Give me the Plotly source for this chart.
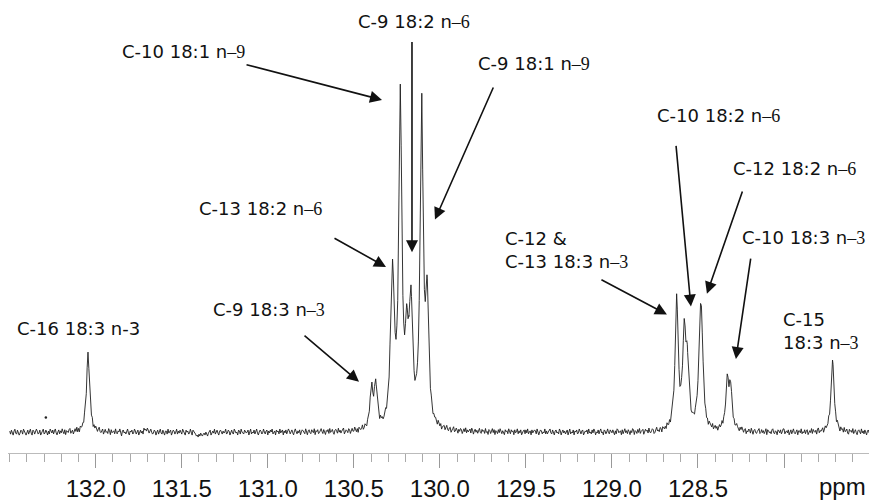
import numpy as np
import plotly.graph_objects as go

# ---- data ----
PEAK_PPM = [132.045, 130.398, 130.373, 130.280, 130.271, 130.230, 130.193, 130.180,
            130.168, 130.106, 130.080, 130.073, 128.624, 128.580, 128.562, 128.489,
            128.479, 128.330, 128.310, 127.718]
PEAK_HEIGHT = [80, 49, 54, 166, 160, 350, 130, 117, 149, 342, 147, 155, 140, 115, 89,
               119, 125, 59, 52, 73]
PEAK_HWHM = 0.0105

PPM_START = 132.50
PPM_STEP = 0.005
NOISE = [
 1,-2,2,0,-3,1,3,-1,-2,2,0,-3,-1,2,1,-2,3,0,-1,-3,1,2,-2,0,3,
 -1,-3,2,1,-2,0,3,1,-2,-1,2,-3,0,1,3,-2,-1,2,0,-3,1,-2,3,0,-1,
 2,-2,1,3,-1,-3,0,2,-2,1,-1,3,0,-2,2,-3,1,0,-1,2,3,-2,-1,1,-3,
 0,2,-1,3,-2,1,-3,2,0,-1,1,-2,3,2,-3,0,1,-1,2,-2,0,3,-3,1,-1,
 2,0,-2,1,3,-1,-2,0,2,-3,1,2,-1,0,-2,3,1,-3,2,-1,0,1,-2,3,-1,
 -2,1,0,3,-1,-4,1,2,-1,0,-2,2,3,-1,-3,1,0,2,-2,-1,3,1,-2,0,2,
 -3,0,2,-1,1,-2,4,2,3,1,4,2,-1,1,3,0,-2,-1,2,1,-3,0,2,-2,1,
 3,-1,-2,2,0,-3,1,1,-2,3,-1,0,2,-3,-1,2,1,-2,0,3,-2,1,-1,2,0,
 -2,3,1,-1,-3,2,0,1,-2,-1,3,0,-3,2,1,-1,-2,-4,-3,-5,-2,-4,-1,-3,-4,
 -2,-1,-3,0,-2,-4,-1,1,2,-3,0,1,-1,3,-2,0,2,-1,-3,1,2,0,-2,1,-1,
 0,3,-2,-1,2,1,-3,0,2,-1,-2,3,1,-1,0,-3,2,1,-2,3,0,-1,-2,2,1,
 -1,0,2,-3,1,3,-2,0,-1,2,-2,1,3,-1,-3,0,2,1,-2,-1,3,0,-2,1,2,
 -3,1,-1,2,0,3,-2,-1,1,-3,2,0,1,-2,3,-1,0,2,-3,1,-1,2,-2,0,3,
 1,-2,0,2,-1,-3,1,3,0,-2,1,-1,2,-3,0,2,1,-1,-2,3,0,-3,1,2,-1,
 -2,2,0,-1,3,-3,1,0,2,-2,-1,1,3,0,-2,2,-1,-3,1,0,2,-2,3,-1,0,
 2,-1,-3,1,2,0,-2,3,-1,1,-2,0,2,3,-3,-1,1,0,-2,2,1,-3,0,2,-1,
 -1,3,0,-2,1,-3,2,1,-1,0,3,-2,-1,2,0,-3,1,2,-2,1,-1,3,0,-2,2,
 0,-2,3,1,-1,-3,2,0,1,-2,-1,2,3,-2,0,1,-3,2,-1,0,3,-1,-2,1,0,
 3,-2,1,-1,2,0,-3,1,2,-2,0,3,-1,-2,1,2,-3,0,1,-1,2,-2,3,0,-1,
 -2,0,2,-1,3,-2,1,0,-3,2,1,-1,0,2,-2,3,-1,-3,1,0,2,-1,-2,3,1,
 -1,2,-3,0,1,2,-2,0,3,-1,-2,1,2,-3,0,1,3,-2,-1,2,0,-3,1,-1,2,
 1,-3,0,2,-1,3,-2,1,-1,0,2,-2,3,1,-3,0,2,-1,1,-2,0,3,-1,-2,2,
 0,1,-2,3,-1,0,-3,2,1,-2,0,3,-1,2,-3,1,0,-2,2,-1,3,0,-2,1,-1,
 -3,2,0,1,-2,3,-1,-2,2,0,1,-3,2,-1,0,3,-2,1,-1,2,-3,0,1,2,-2,
 2,-1,3,-2,0,1,-3,2,-1,0,2,1,-2,3,-1,-3,0,2,1,-2,0,-1,3,-2,1,
 -2,0,1,3,-1,-2,2,0,-3,1,2,-1,0,-2,3,1,-3,0,2,-1,1,-2,0,2,-3,
 1,3,-2,0,-1,2,-3,1,0,2,-2,-1,3,0,-2,1,2,-3,-1,1,0,2,-2,3,-1,
 0,-2,2,-1,3,1,-3,0,-1,2,-2,1,3,-1,0,-3,2,1,-2,0,3,-1,-2,2,0,
 -1,2,0,-3,1,-2,3,2,-1,0,1,-3,2,-2,0,3,-1,1,-2,2,0,-3,1,-1,3,
 2,-3,1,0,-2,2,-1,3,-2,0,1,2,-3,-1,2,0,1,-2,3,-1,-2,0,2,1,-3,
 -2,1,3,-1,0,-2,2,1,-3,2,0,-1,1,-2,3,0,-1,2,-3,1,0,2,-2,-1,3,
 1,0,-2,2,-3,1,3,-1,-2,0,2,-1,1,-3,2,0,3,-2,-1,1,0,-2,2,3,-1,
 -3,2,-1,1,0,-2,3,0,-1,2,-2,1,-3,2,1,0,-1,3,-2,0,2,-1,1,-3,0,
 2,-1,0,3,-2,1,-1,-3,2,0,1,-2,3,-1,0,2,-3,1,-2,0,3,1,-1,-2,2,
 0,3,-1,-2,1,2,-3,0,-1,2,1,-2,3,0,-3,1,2,-1,-2,0,1,3,-2,-1,2,
 -1,1,-2,0,3,-3,2,1,-1,0,-2,2,3,-1,-2,1,0,-3,2,1,-1,2,-2,0,3,
 3,-2,0,1,-1,2,-3,0,2,-2,1,3,-1,-2,0,2,-3,1,1,-1,3,-2,0,-1,2,
 -2,1,2,-3,0,1,-1,3,-2,2,0,-1,1,-3,2,3,-2,0,-1,1,2,-3,0,2,-1,
 1,-1,3,-2,0,2,-3,1,-1,0,2,-2,3,1,-1,-3,2,0,1,-2,3,-1,0,2,-2,
 -3,2,0,1,-1,3,-2,0,2,-1,-3,1,2,0,-2,3,-1,1,-2,2,0,-3,1,2,-1,
]

ARTIFACT_PPM = [132.29]
ARTIFACT_INT = [15]

TICK_PPM = [132.0, 131.5, 131.0, 130.5, 130.0, 129.5, 129.0, 128.5, 128.0]
TICK_TEXT = ["132.0", "131.5", "131.0", "130.5", "130.0", "129.5", "129.0", "128.5", ""]

# ---- spectrum from the peak list + baseline noise ----
peaks = np.array(PEAK_PPM)
obs = np.array(PEAK_HEIGHT, dtype=float)


def lor(d):
    return 1.0 / (1.0 + (d / PEAK_HWHM) ** 2)


A = lor(peaks[:, None] - peaks[None, :])
amp = np.clip(np.linalg.solve(A, obs), 0, None)

noise = np.array(NOISE, dtype=float)
grid = PPM_START - PPM_STEP * np.arange(len(noise))
xs = np.concatenate([grid, peaks])
ns = np.concatenate([noise, np.zeros(len(peaks))])
order = np.argsort(-xs)
xs = xs[order]
ns = ns[order]
ys = (amp[None, :] * lor(xs[:, None] - peaks[None, :])).sum(axis=1) + ns


# helpers converting picture pixels to axis coordinates for annotation placement
def X(px):
    return 132.0 - (px - 95.7) / 172.1


def Y(py):
    return 437 - py


fig = go.Figure()
fig.add_trace(go.Scatter(x=xs, y=ys, mode="lines",
                         line=dict(color="#1e1e1e", width=0.9), hoverinfo="skip"))
fig.add_trace(go.Scatter(x=ARTIFACT_PPM, y=ARTIFACT_INT, mode="markers",
                         marker=dict(color="#222", size=2.5), hoverinfo="skip"))

LBL = dict(family="DejaVu Sans, Verdana, sans-serif", size=18, color="#111")
SER = "<span style=\"font-family:'Liberation Serif','Times New Roman',serif\">%s</span>"
AXF = dict(family="Liberation Sans, Arial, sans-serif", size=24, color="#111")

labels = [
    ("C-10 18:1 n" + SER % "–9", 120, 52),
    ("C-9 18:2 n" + SER % "–6", 356, 22),
    ("C-9 18:1 n" + SER % "–9", 476, 64),
    ("C-13 18:2 n" + SER % "–6", 197, 211),
    ("C-9 18:3 n" + SER % "–3", 211, 313),
    ("C-16 18:3 n-3", 15, 332),
    ("C-12 &<br>C-13 18:3 n" + SER % "–3", 503, 253),
    ("C-10 18:2 n" + SER % "–6", 655, 117),
    ("C-12 18:2 n" + SER % "–6", 731, 170),
    ("C-10 18:3 n" + SER % "–3", 740, 240),
    ("C-15<br>18:3 n" + SER % "–3", 781, 335),
]
for txt, px, py in labels:
    fig.add_annotation(x=X(px), y=Y(py), text=txt, showarrow=False, xanchor="left",
                       yanchor="middle", align="left", font=LBL)

arrows = [
    ((245, 65), (382, 101)),
    ((412, 41), (412, 255)),
    ((494, 87), (435, 222)),
    ((333, 240), (386, 270)),
    ((303, 338), (359, 386)),
    ((600, 282), (667, 318)),
    ((676, 146), (691, 310)),
    ((743, 192), (707, 297)),
    ((751, 260), (736, 363)),
]
for (tx, ty), (hx, hy) in arrows:
    fig.add_annotation(x=X(hx), y=Y(hy), ax=X(tx), ay=Y(ty), axref="x", ayref="y",
                       text="", showarrow=True, arrowhead=2, arrowsize=1.5,
                       arrowwidth=1.6, arrowcolor="#111", standoff=0)

fig.add_annotation(x=X(843), y=-0.074, yref="paper", text="ppm", showarrow=False,
                   xanchor="center", yanchor="middle", font=AXF)

fig.update_layout(
    width=869, height=502,
    margin=dict(l=8, r=0, t=0, b=44),
    paper_bgcolor="white", plot_bgcolor="white",
    showlegend=False,
    xaxis=dict(range=[132.51, 127.506], showgrid=False, zeroline=False,
               tickmode="array", tickvals=TICK_PPM, ticktext=TICK_TEXT,
               ticks="outside", ticklen=14, tickwidth=1, tickcolor="#999",
               showline=True, linecolor="#bbb", linewidth=1,
               tickfont=AXF,
               minor=dict(dtick=0.1, tick0=0, ticks="outside", ticklen=8,
                          tickcolor="#aaa", tickwidth=1, showgrid=False)),
    yaxis=dict(range=[-21, 437], visible=False),
)

fig.write_html("out.html")
